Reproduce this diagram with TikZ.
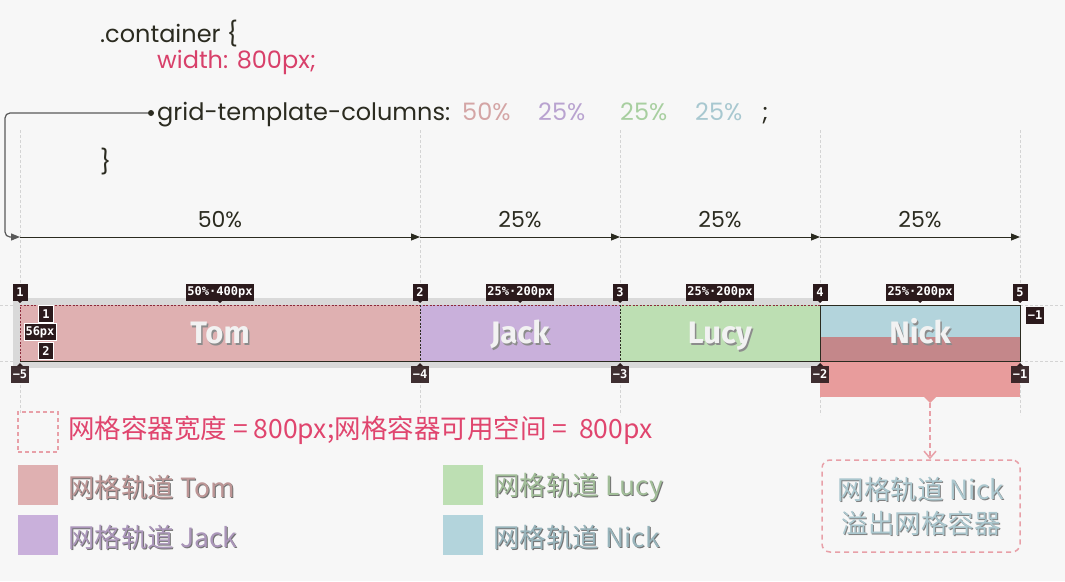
\documentclass[tikz,border=0pt]{standalone}
\usepackage{fontspec}
\setmainfont{Poppins}
\newfontfamily\cjk{Noto Sans CJK SC}
\newfontfamily\monof{DejaVu Sans Mono}
\newfontfamily\trackf{Fira Sans}
\usetikzlibrary{arrows.meta}
\definecolor{bgc}{HTML}{F7F7F7}
\definecolor{codec}{HTML}{2B2B20}
\definecolor{codepink}{HTML}{D8406A}
\definecolor{legpink}{HTML}{E0456E}
\definecolor{tomc}{HTML}{DFB0B1}
\definecolor{jackc}{HTML}{C9B0DB}
\definecolor{lucyc}{HTML}{BDDFB3}
\definecolor{nickc}{HTML}{B3D4DC}
\definecolor{tomt}{HTML}{D4A5A5}
\definecolor{jackt}{HTML}{B9A3D0}
\definecolor{lucyt}{HTML}{A8CFA0}
\definecolor{nickt}{HTML}{A8C8D0}
\definecolor{overc}{HTML}{C4878A}
\definecolor{overflow}{HTML}{E89C9C}
\definecolor{lblc}{HTML}{2B1A1C}
\definecolor{guidec}{HTML}{D4D4D4}
\definecolor{bandc}{HTML}{D9D9D9}
\definecolor{redline}{HTML}{8B2A3A}
\definecolor{dashpink}{HTML}{E8A0A8}
\begin{document}
\begin{tikzpicture}[x=1pt,y=-1pt,
  code/.style={anchor=base west, inner sep=0pt, font=\fontsize{24}{26}\selectfont, text=codec},
  pct/.style={anchor=base west, inner sep=0pt, font=\fontsize{24}{26}\selectfont},
  numlbl/.style={fill=lblc, text=white, font=\monof\bfseries\fontsize{12}{14}\selectfont, inner sep=1.5pt, minimum height=17pt, minimum width=15pt},
  wlbl/.style={numlbl, draw=white, line width=0.6pt},
  guide/.style={draw=guidec, line width=0.7pt, dash pattern=on 3pt off 2pt},
  dimarrow/.style={draw=codec, line width=1pt, -{Triangle[length=9pt,width=7pt]}},
  dimtxt/.style={font=\fontsize{22}{24}\selectfont, text=codec, inner sep=0pt},
  trackbox/.style={minimum height=56pt, inner sep=0pt},
  trackshadow/.style={anchor=base, inner sep=0pt, text=black!45, font=\trackf\bfseries\fontsize{31}{31}\selectfont},
  tracktxt/.style={anchor=base, inner sep=0pt, text=white!90!gray, font=\trackf\bfseries\fontsize{31}{31}\selectfont},
  legsq/.style={minimum width=40pt, minimum height=40pt, inner sep=0pt},
  legtxt/.style={anchor=west, inner sep=0pt},
  cjktxt/.style={font=\cjk\fontsize{26.5}{30}\selectfont}
]
\fill[bgc] (0,0) rectangle (1065,581);
\useasboundingbox (0,0) rectangle (1065,581);

% guides
\foreach \gx in {20,420,620,820,1020}
  \draw[guide] (\gx,130) -- (\gx,415);
\draw[guide] (0,305) -- (1065,305);
\draw[guide] (0,361) -- (1065,361);

% code
\node[code] (c1) at (100,42) {.container \{};
\node[code, text=codepink] (c2) at (157,68) {width: 800px;};
\node[code] (c3) at (157,120) {grid-template-columns:};
\node[pct, text=tomt] (p1) at (462,120) {50\%};
\node[pct, text=jackt] (p2) at (538,120) {25\%};
\node[pct, text=lucyt] (p3) at (620,120) {25\%};
\node[pct, text=nickt] (p4) at (695,120) {25\%};
\node[code] (semi) at (762,120) {;};
\node[code] (c4) at (100,170) {\}};

% dimension arrows
\coordinate (g1) at (20,237);
\coordinate (g2) at (420,237);
\coordinate (g3) at (620,237);
\coordinate (g4) at (820,237);
\coordinate (g5) at (1020,237);
\draw[dimarrow] (g1) -- node[dimtxt, above=9pt] {50\%} (g2);
\draw[dimarrow] (g2) -- node[dimtxt, above=9pt] {25\%} (g3);
\draw[dimarrow] (g3) -- node[dimtxt, above=9pt] {25\%} (g4);
\draw[dimarrow] (g4) -- node[dimtxt, above=9pt] {25\%} (g5);

% connector
\node[circle, fill=codec, inner sep=0pt, minimum size=6pt] (dot) at (151,113) {};
\draw[draw=black!65, line width=1.2pt, rounded corners=5pt, -{Triangle[length=9pt,width=7pt]}] (dot) -- (5,113) -- (5,237) -- (g1);

% container band
\fill[bandc] (13,298) rectangle (820,368);

% tracks
\node[trackbox, fill=tomc, minimum width=400pt] (tom) at (220,333) {};
\node[trackbox, fill=jackc, minimum width=200pt] (jack) at (520,333) {};
\node[trackbox, fill=lucyc, minimum width=200pt] (lucy) at (720,333) {};
\node[trackbox, fill=nickc, minimum width=200pt] (nick) at (920,333) {};
\fill[overc] (820,337) rectangle (1020,361);
\node[inner sep=0pt, minimum width=200pt, minimum height=36pt, fill=overflow] (over) at (920,379) {};
\fill[overflow] (924,397) -- (936,397) -- (930,403) -- cycle;

% outlines
\draw[redline, line width=0.7pt, dash pattern=on 2pt off 1.5pt] (20,361) -- (20,305) -- (820,305);
\draw[codec, line width=0.7pt, dash pattern=on 2pt off 1.5pt] (420,305) -- (420,361);
\draw[codec, line width=0.7pt, dash pattern=on 2pt off 1.5pt] (620,305) -- (620,361);
\draw[codec, line width=0.7pt, dash pattern=on 2pt off 1.5pt] (820,305) -- (820,361);
\draw[codec, line width=0.9pt] (20,361) -- (820,361);
\draw[codec, line width=0.9pt] (820,305) rectangle (1020,361);

% track names
\foreach \n/\t in {tom/Tom, jack/Jack, lucy/Lucy, nick/Nick}{
  \node[trackshadow] at ([shift={(1.5,12.5)}]\n.center) {\t};
  \node[tracktxt] at ([shift={(0,10.5)}]\n.center) {\t};
}

% top labels
\foreach \lx/\lt [count=\i] in {20/1, 420/2, 620/3, 820/4, 1020/5}{
  \node[numlbl] (t\i) at (\lx,292) {\lt};
  \fill[lblc] (\lx-3,300) -- (\lx+3,300) -- (\lx,303) -- cycle;
}
\foreach \lx/\lt [count=\i] in {20/−5, 420/−4, 620/−3, 820/−2, 1020/−1}{
  \node[numlbl, fill opacity=0.9, text opacity=1] (b\i) at (\lx,374) {\lt};
  \fill[lblc] (\lx-3,366) -- (\lx+3,366) -- (\lx,363) -- cycle;
}
\foreach \lx/\lt [count=\i] in {220/50\%·400px, 520/25\%·200px, 720/25\%·200px, 920/25\%·200px}{
  \node[numlbl] (w\i) at (\lx,292) {\lt};
  \fill[lblc] (\lx-3,300) -- (\lx+3,300) -- (\lx,303) -- cycle;
}
\node[numlbl] (r1) at (1035,315) {−1};
\node[wlbl] (rowa) at (46,314) {1};
\node[wlbl] (rowb) at (46,351) {2};
\node[wlbl] (rowh) at (40,332) {56px};

% legend
\node[legsq, draw=dashpink, line width=1.3pt, dash pattern=on 4pt off 3pt] (lcont) at (38,432) {};
\node[legtxt, cjktxt, text=legpink] (lconttxt) at (68,430) {网格容器宽度 = 800px;网格容器可用空间 =\ \ 800px};
\node[legsq, fill=tomc] (ltom) at (38,485) {};
\node[legsq, fill=jackc] (ljack) at (38,535) {};
\node[legsq, fill=lucyc] (llucy) at (463,485) {};
\node[legsq, fill=nickc] (lnick) at (463,535) {};
\node[legtxt, cjktxt, text=black!55] at (69.2,488.2) {网格轨道 Tom};
\node[legtxt, cjktxt, text=tomc!85!black] (ltomt) at (68,487) {网格轨道 Tom};
\node[legtxt, cjktxt, text=black!55] at (69.2,538.2) {网格轨道 Jack};
\node[legtxt, cjktxt, text=jackc!85!black] (ljackt) at (68,537) {网格轨道 Jack};
\node[legtxt, cjktxt, text=black!55] at (494.2,488.2) {网格轨道 Lucy};
\node[legtxt, cjktxt, text=lucyc!85!black] (llucyt) at (493,487) {网格轨道 Lucy};
\node[legtxt, cjktxt, text=black!55] at (494.2,538.2) {网格轨道 Nick};
\node[legtxt, cjktxt, text=nickc!85!black] (lnickt) at (493,537) {网格轨道 Nick};

% overflow callout
\node[draw=dashpink, line width=1.5pt, dash pattern=on 5pt off 4pt, rounded corners=8pt, minimum width=198pt, minimum height=92pt, inner sep=0pt] (callout) at (921,506) {};
\node[text=black!50, align=center, font=\cjk\fontsize{26.5}{34}\selectfont] at ([shift={(1.2,1.2)}]callout.center) {网格轨道 Nick\\溢出网格容器};
\node[text=nickc!85!gray, align=center, font=\cjk\fontsize{26.5}{34}\selectfont] (callt) at (callout.center) {网格轨道 Nick\\溢出网格容器};
\draw[dashpink, line width=1.5pt, dash pattern=on 5pt off 3pt, -{Straight Barb[length=7pt,width=12pt]}] (930,403) -- (callout.north -| 930,0);
\end{tikzpicture}
\end{document}
